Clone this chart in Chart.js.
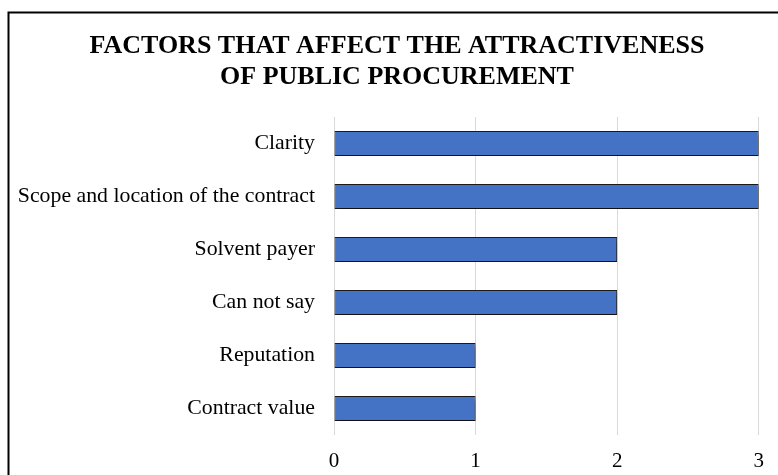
<!DOCTYPE html>
<html>
<head>
<meta charset="utf-8">
<script src="https://cdn.jsdelivr.net/npm/chart.js@4/dist/chart.umd.min.js"></script>
<style>
  html, body { margin: 0; padding: 0; background: #fff; overflow: hidden; }
  #wrap { position: relative; width: 778px; height: 475px; }
</style>
</head>
<body>
<div id="wrap"><canvas id="chart" width="778" height="475"></canvas></div>
<script>
// Survey results: factors that affect the attractiveness of public procurement
const titleLines = ['FACTORS THAT AFFECT THE ATTRACTIVENESS', 'OF PUBLIC PROCUREMENT'];
const categories = [
  'Clarity',
  'Scope and location of the contract',
  'Solvent payer',
  'Can not say',
  'Reputation',
  'Contract value'
];
const responses = [3, 3, 2, 2, 1, 1];
const axisMin = 0;
const axisMax = 3;
const axisStep = 1;

const serif = '"Liberation Serif", "Times New Roman", serif';

// Two-line bold heading, centred over the whole figure frame
const headingPlugin = {
  id: 'heading',
  afterDraw(chart) {
    const ctx = chart.ctx;
    ctx.save();
    ctx.fillStyle = '#000';
    ctx.font = 'bold 26px ' + serif;
    ctx.textAlign = 'center';
    ctx.textBaseline = 'middle';
    const cx = 397;
    titleLines.forEach((line, i) => ctx.fillText(line, cx, 46 + i * 31));
    ctx.restore();
  }
};

// Dark frame around the whole figure (right/bottom edges run past the viewport)
const framePlugin = {
  id: 'frame',
  afterDraw(chart) {
    const ctx = chart.ctx;
    ctx.save();
    ctx.strokeStyle = '#000';
    ctx.lineWidth = 2;
    ctx.beginPath();
    ctx.moveTo(8.5, chart.height + 10);
    ctx.lineTo(8.5, 12.5);
    ctx.lineTo(chart.width + 10, 12.5);
    ctx.stroke();
    ctx.restore();
  }
};

// Soft drop shadow under the bars
const barShadow = {
  id: 'barShadow',
  beforeDatasetsDraw(chart) {
    const ctx = chart.ctx;
    ctx.save();
    ctx.shadowColor = 'rgba(0,0,0,0.45)';
    ctx.shadowBlur = 5;
    ctx.shadowOffsetX = 2;
    ctx.shadowOffsetY = 3;
  },
  afterDatasetsDraw(chart) {
    chart.ctx.restore();
  }
};

new Chart(document.getElementById('chart'), {
  type: 'bar',
  data: {
    labels: categories,
    datasets: [{
      data: responses,
      backgroundColor: '#4472C4',
      borderColor: '#1c1c1c',
      borderWidth: 1,
      borderSkipped: false,
      categoryPercentage: 1,
      barPercentage: 0.47
    }]
  },
  options: {
    indexAxis: 'y',
    responsive: false,
    animation: false,
    layout: { padding: { left: 10, right: 16, top: 117, bottom: 0 } },
    plugins: {
      legend: { display: false },
      tooltip: { enabled: false },
      title: { display: false }
    },
    scales: {
      x: {
        min: axisMin,
        max: axisMax,
        ticks: {
          stepSize: axisStep,
          color: '#000',
          padding: 14,
          font: { family: serif, size: 21 }
        },
        grid: { color: '#d9d9d9', lineWidth: 1, drawTicks: false },
        border: { display: false },
        afterFit(scale) { scale.height = 40; }
      },
      y: {
        ticks: {
          color: '#000',
          padding: 19,
          font: { family: serif, size: 21.8 }
        },
        grid: { display: false, drawTicks: false },
        border: { display: false },
        afterFit(scale) { scale.width = 324; }
      }
    }
  },
  plugins: [barShadow, headingPlugin, framePlugin]
});
</script>
</body>
</html>
